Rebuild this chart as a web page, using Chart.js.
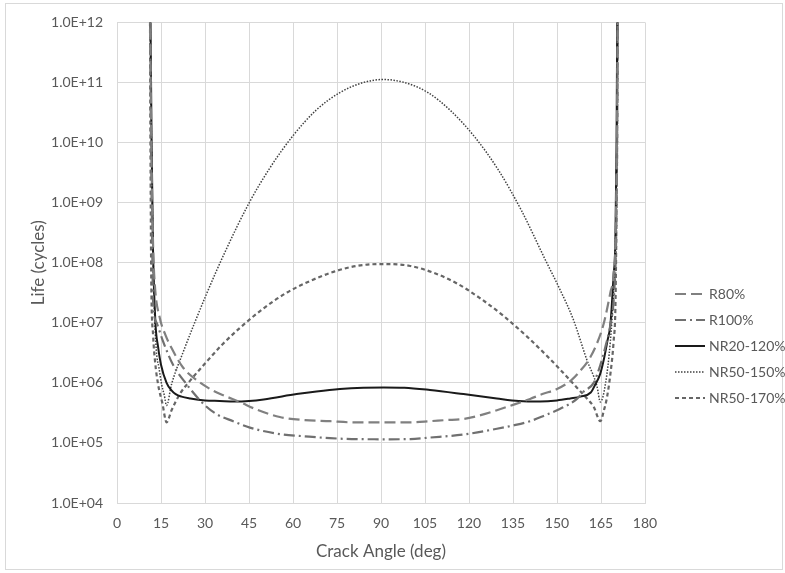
<!DOCTYPE html>
<html>
<head>
<meta charset="utf-8">
<script src="https://cdn.jsdelivr.net/npm/chart.js@4.4.1/dist/chart.umd.min.js"></script>
<style>
  html, body { margin: 0; padding: 0; background: #fff; overflow: hidden; }
  #wrap { position: absolute; left: 0; top: 0; width: 785px; height: 573px; }
</style>
</head>
<body>
<div id="wrap"><canvas id="grafico" width="785" height="573"></canvas></div>
<script>
// ---------------------------------------------------------
// Dados (ângulo em graus, vida em ciclos)
// ---------------------------------------------------------
const xTicks = [0, 15, 30, 45, 60, 75, 90, 105, 120, 135, 150, 165, 180];
const yTicks = [1e4, 1e5, 1e6, 1e7, 1e8, 1e9, 1e10, 1e11, 1e12];
const yTickLabels = ['1.0E+04', '1.0E+05', '1.0E+06', '1.0E+07', '1.0E+08', '1.0E+09', '1.0E+10', '1.0E+11', '1.0E+12'];

const seriesNames = ['R80%', 'R100%', 'NR20-120%', 'NR50-150%', 'NR50-170%'];

// R80% (traço longo)
const angR80 = [11.2, 11.7, 12.3, 12.9, 14.6, 16.5, 18.6, 22.5, 27.6, 32.8, 37, 41.9, 47, 55.5, 64, 72.6, 80, 90.8,
  100, 106.7, 112, 118.1, 124, 129.5, 135, 140.8, 145, 150, 155, 158, 161, 163.6, 166, 168.2, 169.3, 170, 170.4, 170.8];
const lifeR80 = [5e12, 1e10, 2.0e8, 4.3e7, 1.2e7, 6.3e6, 3.8e6, 1.8e6, 1.07e6, 7.4e5, 6.0e5, 4.8e5, 3.7e5, 2.7e5, 2.4e5, 2.3e5, 2.2e5, 2.19e5,
  2.2e5, 2.3e5, 2.4e5, 2.5e5, 2.9e5, 3.5e5, 4.3e5, 5.4e5, 6.5e5, 7.9e5, 1.12e6, 1.6e6, 2.5e6, 4.5e6, 1.0e7, 3.2e7, 6.3e7, 3.2e8, 1e10, 5e12];

// R100% (traço-ponto)
const angR100 = [11.2, 11.6, 12.0, 12.3, 13.5, 15.7, 19.1, 23.7, 29.4, 34, 39.6, 45.3, 55.5, 64, 72.6, 80, 90.8,
  100, 106.7, 118.1, 129.5, 135, 140.8, 146, 151.1, 156.8, 159, 162.5, 164.8, 166.5, 168.2, 169.5, 170.2, 170.5, 170.8];
const lifeR100 = [5e12, 1e10, 2e8, 2.3e7, 1.0e7, 4.9e6, 2.0e6, 9.5e5, 4.5e5, 3.0e5, 2.3e5, 1.8e5, 1.4e5, 1.29e5, 1.2e5, 1.16e5, 1.15e5,
  1.16e5, 1.23e5, 1.38e5, 1.72e5, 1.95e5, 2.3e5, 2.9e5, 3.7e5, 5.4e5, 7.1e5, 1.0e6, 2.0e6, 4.0e6, 9.3e6, 3.3e7, 3.2e8, 1e10, 5e12];

// NR20-120% (contínua)
const angNR20 = [11.3, 11.8, 12.3, 13.1, 14.0, 15.0, 16.9, 18.5, 20.0, 22, 25, 30, 35, 40, 45, 50, 61.2, 68, 76, 84, 91,
  98, 106.7, 118.1, 129.5, 137, 144.3, 150, 154.5, 158, 161.5, 163, 164.7, 166, 167.2, 168.2, 169.3, 169.9, 170.3, 170.6];
const lifeNR20 = [5e12, 1e10, 1.5e8, 1.0e7, 4.0e6, 2.0e6, 1.0e6, 7.6e5, 6.5e5, 5.9e5, 5.5e5, 5.1e5, 5.0e5, 4.9e5, 5.0e5, 5.3e5, 6.5e5, 7.2e5, 7.9e5, 8.3e5, 8.4e5,
  8.3e5, 7.6e5, 6.5e5, 5.5e5, 5.0e5, 4.9e5, 5.1e5, 5.5e5, 5.9e5, 6.9e5, 9.3e5, 1.4e6, 2.5e6, 5.0e6, 9.3e6, 6.3e7, 2.2e8, 1e10, 5e12];

// NR50-150% (pontilhada)
const angNR150 = [11.2, 11.8, 12.3, 12.7, 13.4, 14.3, 15.2, 16.1, 16.9, 18.6, 22.5, 30.5, 36.8, 45, 52, 60, 68, 76, 84, 90.8,
  98, 106, 114, 122, 130, 138, 146, 151.1, 155.6, 160.2, 163.6, 164.8, 166.5, 168.2, 169.3, 169.9, 170.4, 170.8];
const lifeNR150 = [5e12, 6.3e9, 1.6e8, 2.0e7, 3.5e6, 1.8e6, 9.5e5, 6.3e5, 4.2e5, 9.5e5, 3.2e6, 3.0e7, 1.5e8, 9.8e8, 3.7e9, 1.3e10, 3.5e10, 6.8e10, 1.0e11, 1.12e11,
  1.0e11, 6.8e10, 3.3e10, 1.23e10, 3.5e9, 7.2e8, 1.12e8, 3.5e7, 1.12e7, 2.4e6, 8.9e5, 4.8e5, 9.5e5, 5.0e6, 3.4e7, 2.2e8, 1e10, 5e12];

// NR50-170% (traço curto)
const angNR170 = [11.2, 11.5, 11.7, 12.3, 13.0, 14.0, 15.5, 16.9, 18.6, 21.4, 25, 30, 36, 42, 50, 58, 66, 74, 82, 90.8,
  99.6, 107.6, 115.6, 123.6, 131.6, 139.6, 146.6, 151.1, 154.5, 156.8, 160.2, 162.5, 164.8, 166, 167, 168.2, 169.3, 169.9, 170.2, 170.5, 170.8];
const lifeNR170 = [5e12, 1e9, 4.3e7, 6.3e6, 2.2e6, 9.5e5, 4.5e5, 2.2e5, 3.5e5, 6.5e5, 1.1e6, 2.1e6, 4.4e6, 8.3e6, 1.74e7, 3.2e7, 5.0e7, 7.1e7, 8.9e7, 9.5e7,
  8.9e7, 6.9e7, 4.6e7, 2.6e7, 1.32e7, 6.0e6, 2.8e6, 1.66e6, 1.1e6, 8.3e5, 5.5e5, 4.0e5, 2.3e5, 3.5e5, 5.6e5, 1.4e6, 4.9e6, 1.74e7, 2.2e8, 1e10, 5e12];

// ---------------------------------------------------------
// Estilos
// ---------------------------------------------------------
const FONT = 'Lato, "Liberation Sans", sans-serif';
const TEXT_COLOR = '#595959';
const GRID_COLOR = '#d9d9d9';

function pontos(angulos, vidas) {
  return angulos.map((a, i) => ({ x: a, y: vidas[i] }));
}

const estilos = [
  { color: '#808080', width: 2.2, dash: [11, 5] },
  { color: '#707070', width: 2.2, dash: [11, 4, 2, 4] },
  { color: '#1a1a1a', width: 2, dash: [] },
  { color: '#404040', width: 1.5, dash: [1.5, 1.5] },
  { color: '#666666', width: 2.2, dash: [4, 3] }
];

const todosDados = [
  pontos(angR80, lifeR80),
  pontos(angR100, lifeR100),
  pontos(angNR20, lifeNR20),
  pontos(angNR150, lifeNR150),
  pontos(angNR170, lifeNR170)
];

const datasets = seriesNames.map((nome, i) => ({
  label: nome,
  data: todosDados[i],
  borderColor: estilos[i].color,
  borderWidth: estilos[i].width,
  borderDash: estilos[i].dash,
  pointRadius: 0,
  fill: false
}));

// Fundo branco + moldura cinza clara
const molduraPlugin = {
  id: 'moldura',
  beforeDraw(chart) {
    const { ctx } = chart;
    ctx.save();
    ctx.fillStyle = '#ffffff';
    ctx.fillRect(0, 0, chart.width, chart.height);
    ctx.strokeStyle = GRID_COLOR;
    ctx.lineWidth = 1;
    ctx.strokeRect(5.5, 3.5, 777, 566);
    ctx.restore();
  }
};

// Legenda à direita, desenhada à mão
const legendaPlugin = {
  id: 'legendaLateral',
  afterDraw(chart) {
    const { ctx } = chart;
    const topo = 294;
    const passo = 26;
    chart.data.datasets.forEach((ds, i) => {
      const y = topo + i * passo;
      ctx.save();
      ctx.strokeStyle = ds.borderColor;
      ctx.lineWidth = ds.borderWidth;
      ctx.setLineDash(ds.borderDash || []);
      ctx.beginPath();
      ctx.moveTo(675, y);
      ctx.lineTo(705, y);
      ctx.stroke();
      ctx.setLineDash([]);
      ctx.fillStyle = TEXT_COLOR;
      ctx.font = '14px ' + FONT;
      ctx.textBaseline = 'middle';
      ctx.textAlign = 'left';
      ctx.fillText(ds.label, 709, y);
      ctx.restore();
    });
  }
};

new Chart(document.getElementById('grafico'), {
  type: 'line',
  data: { datasets },
  options: {
    responsive: false,
    animation: false,
    layout: { padding: { top: 19, right: 140, left: 0, bottom: 0 } },
    elements: { line: { cubicInterpolationMode: 'monotone' } },
    plugins: {
      legend: { display: false },
      tooltip: { enabled: false }
    },
    scales: {
      x: {
        type: 'linear',
        min: 0,
        max: 180,
        afterBuildTicks: (s) => { s.ticks = xTicks.map(v => ({ value: v })); },
        afterFit: (s) => { s.height = 70; },
        ticks: { color: TEXT_COLOR, font: { family: FONT, size: 14 }, padding: 12, maxRotation: 0 },
        grid: { color: GRID_COLOR, drawTicks: false },
        border: { color: GRID_COLOR },
        title: {
          display: true,
          text: 'Crack Angle (deg)',
          color: TEXT_COLOR,
          font: { family: FONT, size: 17 },
          padding: { top: 0, bottom: 11 }
        }
      },
      y: {
        type: 'logarithmic',
        min: 1e4,
        max: 1e12,
        afterBuildTicks: (s) => { s.ticks = yTicks.map(v => ({ value: v })); },
        afterFit: (s) => { s.width = 117; },
        ticks: {
          color: TEXT_COLOR,
          font: { family: FONT, size: 14 },
          padding: 14,
          callback: (v) => yTickLabels[yTicks.indexOf(v)] || ''
        },
        grid: { color: GRID_COLOR, drawTicks: false },
        border: { color: GRID_COLOR },
        title: {
          display: true,
          text: 'Life (cycles)',
          color: TEXT_COLOR,
          font: { family: FONT, size: 17 },
          padding: { top: 28, bottom: 0 }
        }
      }
    }
  },
  plugins: [molduraPlugin, legendaPlugin]
});
</script>
</body>
</html>
